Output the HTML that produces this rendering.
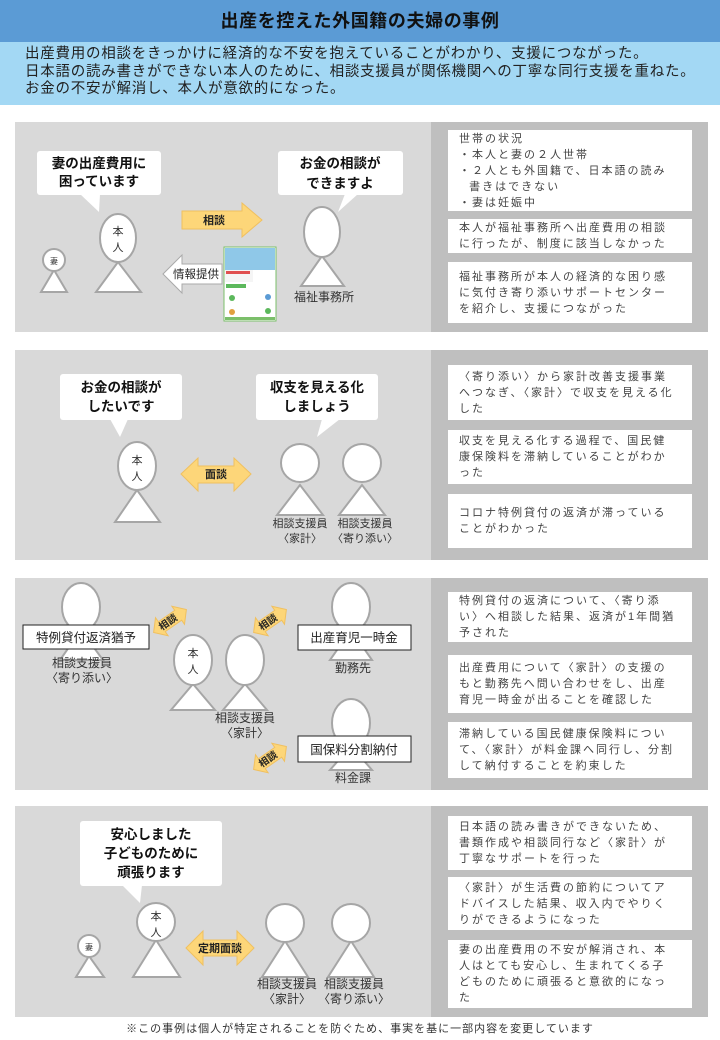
<!DOCTYPE html>
<html><head><meta charset="utf-8">
<style>
*{margin:0;padding:0;box-sizing:border-box}
body{width:720px;height:1040px;background:#fff;position:relative;font-family:"Liberation Sans","Noto Sans CJK JP",sans-serif;overflow:hidden}
.hd{position:absolute;left:0;top:0;width:720px;height:42px;background:#5b9bd5;text-align:center;font-weight:bold;font-size:18px;letter-spacing:0.6px;line-height:42px;color:#111}
.sub{position:absolute;left:0;top:42px;width:720px;height:63px;background:#a3d8f4;padding:4px 0 0 25px;font-size:14.5px;letter-spacing:0.75px;line-height:17.5px;color:#222;white-space:nowrap}
.pl{position:absolute;left:15px;width:416px;background:#d9d9d9}
.pr{position:absolute;left:431px;width:277px;background:#bfbfbf}
.bx{position:absolute;left:448px;width:244px;background:#fff;font-size:11px;line-height:16px;letter-spacing:2px;color:#444;padding:0 16px 0 11px;display:flex;flex-direction:column;justify-content:center}
svg{position:absolute;left:0;top:0}
.ft{position:absolute;top:1020px;left:0;width:720px;text-align:center;font-size:11px;letter-spacing:1px;color:#333}
</style></head><body>
<div class="hd">出産を控えた外国籍の夫婦の事例</div>
<div class="sub">出産費用の相談をきっかけに経済的な不安を抱えていることがわかり、支援につながった。<br>日本語の読み書きができない本人のために、相談支援員が関係機関への丁寧な同行支援を重ねた。<br>お金の不安が解消し、本人が意欲的になった。</div>

<div class="pl" style="top:122px;height:210px"></div><div class="pr" style="top:122px;height:210px"></div>
<div class="pl" style="top:350px;height:210px"></div><div class="pr" style="top:350px;height:210px"></div>
<div class="pl" style="top:578px;height:212px"></div><div class="pr" style="top:578px;height:212px"></div>
<div class="pl" style="top:806px;height:211px"></div><div class="pr" style="top:806px;height:211px"></div>

<div class="bx" style="top:130px;height:81px;justify-content:flex-start;padding-top:1px">世帯の状況<br>・本人と妻の２人世帯<br>・２人とも外国籍で、日本語の読み<br>&nbsp;&nbsp;書きはできない<br>・妻は妊娠中</div>
<div class="bx" style="top:219px;height:34px">本人が福祉事務所へ出産費用の相談に行ったが、制度に該当しなかった</div>
<div class="bx" style="top:262px;height:61px">福祉事務所が本人の経済的な困り感に気付き寄り添いサポートセンターを紹介し、支援につながった</div>

<div class="bx" style="top:365px;height:55px">〈寄り添い〉から家計改善支援事業へつなぎ、〈家計〉で収支を見える化した</div>
<div class="bx" style="top:430px;height:54px">収支を見える化する過程で、国民健康保険料を滞納していることがわかった</div>
<div class="bx" style="top:494px;height:54px">コロナ特例貸付の返済が滞っていることがわかった</div>

<div class="bx" style="top:592px;height:50px">特例貸付の返済について、〈寄り添い〉へ相談した結果、返済が1年間猶予された</div>
<div class="bx" style="top:655px;height:58px">出産費用について〈家計〉の支援のもと勤務先へ問い合わせをし、出産育児一時金が出ることを確認した</div>
<div class="bx" style="top:722px;height:56px">滞納している国民健康保険料について、〈家計〉が料金課へ同行し、分割して納付することを約束した</div>

<div class="bx" style="top:816px;height:54px">日本語の読み書きができないため、書類作成や相談同行など〈家計〉が丁寧なサポートを行った</div>
<div class="bx" style="top:877px;height:53px">〈家計〉が生活費の節約についてアドバイスした結果、収入内でやりくりができるようになった</div>
<div class="bx" style="top:940px;height:68px">妻の出産費用の不安が解消され、本人はとても安心し、生まれてくる子どものために頑張ると意欲的になった</div>

<svg width="720" height="1040" viewBox="0 0 720 1040" font-family="Liberation Sans, Noto Sans CJK JP, sans-serif">
<g fill="#fff" stroke="#a6a6a6" stroke-width="2">
<polygon points="118,262 96,292 141,292"/><ellipse cx="118" cy="238" rx="18" ry="24"/>
<polygon points="54,270 41,292 67,292"/><circle cx="54" cy="260" r="11"/>
<polygon points="322,256 301,286 344,286"/><ellipse cx="322" cy="232" rx="18" ry="25"/>
<polygon points="137,490 115,522 160,522"/><ellipse cx="137" cy="466" rx="19" ry="24"/>
<polygon points="300,485 277,515 323,515"/><circle cx="300" cy="463" r="19"/>
<polygon points="362,485 339,515 385,515"/><circle cx="362" cy="463" r="19"/>
<polygon points="81,630 60,660 103,660"/><ellipse cx="81" cy="607" rx="19" ry="24"/>
<polygon points="193,684 171,710 215,710"/><ellipse cx="193" cy="660" rx="19" ry="25"/>
<polygon points="245,684 223,710 267,710"/><ellipse cx="245" cy="660" rx="19" ry="25"/>
<polygon points="351,630 330,660 372,660"/><ellipse cx="351" cy="607" rx="19" ry="24"/>
<polygon points="351,746 330,770 372,770"/><ellipse cx="351" cy="723" rx="19" ry="24"/>
<polygon points="156,940 133,977 180,977"/><circle cx="156" cy="922" r="19"/>
<polygon points="89,956 76,977 104,977"/><circle cx="89" cy="946" r="11"/>
<polygon points="285,941 262,977 308,977"/><circle cx="285" cy="923" r="19"/>
<polygon points="351,941 328,977 374,977"/><circle cx="351" cy="923" r="19"/>
</g>
<g fill="#fff">
<rect x="37" y="151" width="124" height="44" rx="3"/><polygon points="80,194 100,194 99,212"/>
<rect x="278" y="151" width="125" height="44" rx="3"/><polygon points="345,194 358,194 338,212"/>
<rect x="60" y="374" width="122" height="46" rx="3"/><polygon points="110,419 128,419 120,437"/>
<rect x="256" y="374" width="122" height="46" rx="3"/><polygon points="322,419 340,419 317,437"/>
<rect x="80" y="821" width="142" height="65" rx="3"/><polygon points="122,885 142,885 140,903"/>
</g>
<g font-weight="bold" font-size="13.5" text-anchor="middle" fill="#111">
<text x="99" y="168">妻の出産費用に</text><text x="99" y="186">困っています</text>
<text x="340" y="168">お金の相談が</text><text x="340" y="188">できますよ</text>
<text x="121" y="392">お金の相談が</text><text x="121" y="411">したいです</text>
<text x="317" y="392">収支を見える化</text><text x="317" y="411">しましょう</text>
<text x="151" y="839">安心しました</text><text x="151" y="858">子どものために</text><text x="151" y="877">頑張ります</text>
</g>
<g font-size="11" text-anchor="middle" fill="#333">
<text x="118" y="235">本</text><text x="118" y="251">人</text>
<text x="54" y="264" font-size="8">妻</text>
<text x="137" y="464">本</text><text x="137" y="480">人</text>
<text x="193" y="657">本</text><text x="193" y="673">人</text>
<text x="156" y="920">本</text><text x="156" y="936">人</text>
<text x="89" y="950" font-size="8">妻</text>
<text x="324" y="301" font-size="12">福祉事務所</text>
<text x="300" y="527">相談支援員</text><text x="300" y="542">〈家計〉</text>
<text x="365" y="527">相談支援員</text><text x="365" y="542">〈寄り添い〉</text>
<text x="82" y="667" font-size="12">相談支援員</text><text x="82" y="682" font-size="12">〈寄り添い〉</text>
<text x="245" y="722" font-size="12">相談支援員</text><text x="245" y="737" font-size="12">〈家計〉</text>
<text x="353" y="672" font-size="12">勤務先</text>
<text x="353" y="782" font-size="12">料金課</text>
<text x="287" y="988" font-size="12">相談支援員</text><text x="287" y="1003" font-size="12">〈家計〉</text>
<text x="354" y="988" font-size="12">相談支援員</text><text x="354" y="1003" font-size="12">〈寄り添い〉</text>
</g>
<g fill="#fff" stroke="#222" stroke-width="1">
<rect x="23" y="625" width="126" height="24"/><rect x="298" y="625" width="113" height="25"/><rect x="298" y="736" width="113" height="26"/>
</g>
<g font-size="12.5" text-anchor="middle" fill="#222">
<text x="86" y="642">特例貸付返済猶予</text><text x="354" y="642">出産育児一時金</text><text x="354" y="754">国保料分割納付</text>
</g>
<g fill="#fdd679" stroke="#f0c060" stroke-width="1">
<polygon points="182,211 242,211 242,203 262,220 242,237 242,229 182,229"/>
<polygon points="181,474 198,458 198,466 234,466 234,458 251,474 234,491 234,483 198,483 198,491"/>
<polygon points="186,948 203,931 203,940 237,940 237,931 254,948 237,965 237,956 203,956 203,965"/>
</g>
<polygon points="163,274 182,255 182,264 222,264 222,284 182,284 182,293" fill="#fff" stroke="#aaa"/>
<g font-size="11" font-weight="bold" text-anchor="middle" fill="#222">
<text x="214" y="224">相談</text>
<text x="216" y="478">面談</text>
<text x="220" y="952">定期面談</text>
<text x="196" y="278" font-weight="normal" font-size="11.5">情報提供</text>
</g>
<g fill="#fdd679" stroke="#f0c060">
<polygon transform="translate(170,621) rotate(-35)" points="-20,0 -10,-11 -10,-6 10,-6 10,-11 20,0 10,11 10,6 -10,6 -10,11"/>
<polygon transform="translate(270,621) rotate(-35)" points="-20,0 -10,-11 -10,-6 10,-6 10,-11 20,0 10,11 10,6 -10,6 -10,11"/>
<polygon transform="translate(270,758) rotate(-35)" points="-20,0 -10,-11 -10,-6 10,-6 10,-11 20,0 10,11 10,6 -10,6 -10,11"/>
</g>
<g font-size="10" font-weight="bold" text-anchor="middle" fill="#222">
<text transform="translate(170,625) rotate(-35)">相談</text>
<text transform="translate(270,625) rotate(-35)">相談</text>
<text transform="translate(270,762) rotate(-35)">相談</text>
</g>
<rect x="224" y="247" width="52" height="74" fill="#fff" stroke="#7bbf6a"/>
<rect x="225" y="248" width="50" height="22" fill="#8fc8e8"/>
<rect x="225" y="270" width="28" height="12" fill="#f5f5f5"/>
<rect x="226" y="271" width="24" height="3" fill="#e05050"/>
<rect x="226" y="284" width="20" height="4" fill="#5cb85c"/>
<circle cx="232" cy="298" r="3" fill="#5cb85c"/><circle cx="268" cy="297" r="3" fill="#5b9bd5"/><circle cx="232" cy="312" r="3" fill="#e0a040"/><circle cx="268" cy="311" r="3" fill="#5cb85c"/>
<rect x="225" y="317" width="50" height="3" fill="#7bbf6a"/>
</svg>
<div class="ft">※この事例は個人が特定されることを防ぐため、事実を基に一部内容を変更しています</div>
</body></html>
